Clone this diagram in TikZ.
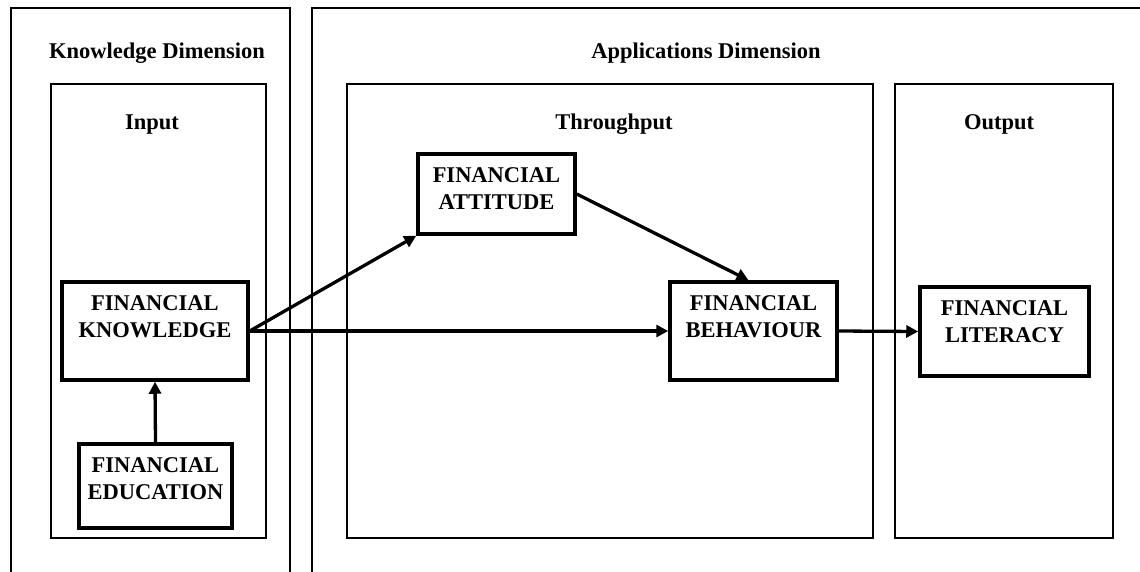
\documentclass[tikz,border=0pt]{standalone}
\usepackage{fontspec}
\setmainfont{Liberation Serif}
\usetikzlibrary{arrows.meta}
\begin{document}
\begin{tikzpicture}[x=1pt,y=-1pt,
  frame/.style={line width=1.4pt},
  title/.style={font=\fontsize{22.5}{27}\selectfont\bfseries, anchor=base, inner sep=0pt},
  concept/.style={draw, line width=3.5pt, rectangle, inner sep=0pt},
  caption/.style={anchor=north, yshift=-15pt, align=center, inner sep=0pt,
    font=\fontsize{22.5}{27}\selectfont\bfseries},
  link/.style={line width=3.3pt, -{Triangle[length=12pt,width=12pt]}}]
\useasboundingbox (0,0) rectangle (1140,571);
\clip (0,0) rectangle (1140,571);

% dimension frames (open below and to the right)
\draw[frame] (11,575) -- (11,8) -- (290,8) -- (290,575);
\draw[frame] (312,575) -- (312,8) -- (1145,8);
\node[title] (kdim) at (157,58) {Knowledge Dimension};
\node[title] (adim) at (706,58) {Applications Dimension};

% stage boxes
\draw[frame] (51,84) rectangle (266,538);
\draw[frame] (347,84) rectangle (873,538);
\draw[frame] (895,84) rectangle (1113,538);
\node[title] (input) at (152,129) {Input};
\node[title] (through) at (614,129) {Throughput};
\node[title] (output) at (999,129) {Output};

% concepts
\node[concept, minimum width=186pt, minimum height=98pt,
  label={[caption]north:FINANCIAL\\KNOWLEDGE}] (know) at (155,331) {};
\node[concept, minimum width=153pt, minimum height=84pt,
  label={[caption]north:FINANCIAL\\EDUCATION}] (edu) at (155.5,486) {};
\node[concept, minimum width=157pt, minimum height=80pt,
  label={[caption]north:FINANCIAL\\ATTITUDE}] (att) at (496.5,194) {};
\node[concept, minimum width=167pt, minimum height=98pt,
  label={[caption]north:FINANCIAL\\BEHAVIOUR}] (beh) at (753.5,331) {};
\node[concept, minimum width=169pt, minimum height=89pt,
  label={[caption]north:FINANCIAL\\LITERACY}] (lit) at (1004.5,331.5) {};

% relations
\draw[link] (edu.north) -- (know.south);
\draw[link] (know.east) -- (att.south west);
\draw[link] (know.east) -- (beh.west);
\draw[link] (att.east) -- ([xshift=-5pt]beh.north);
\draw[link] (beh.east) -- (lit.west);
\end{tikzpicture}
\end{document}
